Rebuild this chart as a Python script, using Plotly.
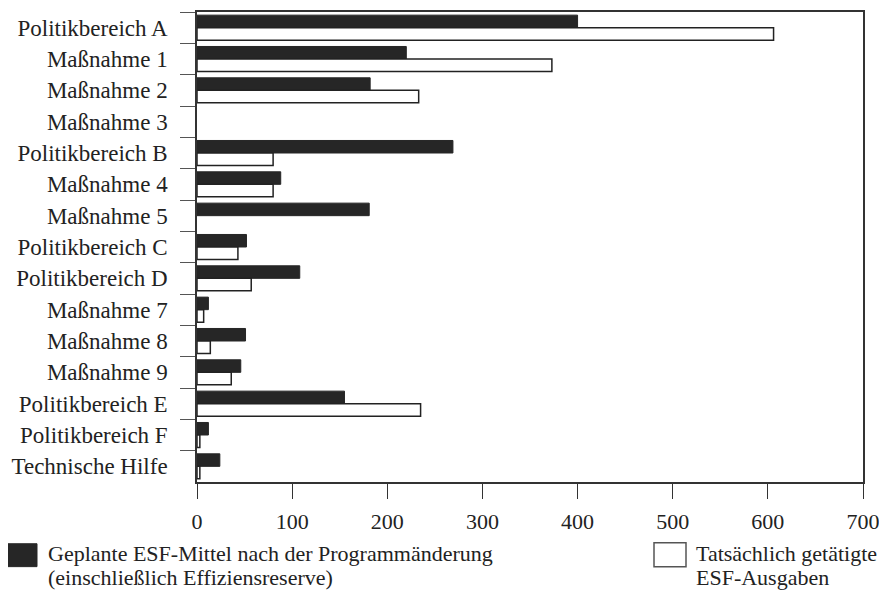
import plotly.graph_objects as go

# ===========================================
# Daten
# ===========================================
kategorien = [
    "Politikbereich A", "Maßnahme 1", "Maßnahme 2", "Maßnahme 3",
    "Politikbereich B", "Maßnahme 4", "Maßnahme 5", "Politikbereich C",
    "Politikbereich D", "Maßnahme 7", "Maßnahme 8", "Maßnahme 9",
    "Politikbereich E", "Politikbereich F", "Technische Hilfe",
]
# None = kein Balken in der Vorlage
geplant = [400, 220, 182, None, 269, 88, 181, 52, 108, 12, 51, 46, 155, 12, 24]
ausgaben = [606, 373, 233, None, 80, 80, None, 43, 57, 7, 14, 36, 235, 3, 3]

x_ticks = [0, 100, 200, 300, 400, 500, 600, 700]

name_geplant = "Geplante ESF-Mittel nach der Programmänderung"
name_geplant_2 = "(einschließlich Effiziensreserve)"
name_ausgaben = "Tatsächlich getätigte"
name_ausgaben_2 = "ESF-Ausgaben"

SCHRIFT = "Liberation Serif"

# Seite hat 8px Body-Rand -> Figur um 8px kleiner
RAND = 8
W, H = 887 - RAND, 592 - RAND
# Plotbereich in Fenster-Pixeln: x 197..863, y 10..482
L, R, T, B = 197 - RAND, 887 - 863, 10 - RAND, 592 - 482

# Fenster-Pixel -> Paper-Koordinaten (für die Legende)
def px_x(x):
    return (x - 197) / (863 - 197)

def px_y(y):
    return (482 - y) / (482 - 10)

# ===========================================
# Figur
# ===========================================
fig = go.Figure()
fig.add_trace(go.Bar(
    y=kategorien, x=geplant, orientation="h", name=name_geplant,
    marker=dict(color="#262626", line=dict(color="#262626", width=1)),
))
fig.add_trace(go.Bar(
    y=kategorien, x=ausgaben, orientation="h", name=name_ausgaben,
    marker=dict(color="white", line=dict(color="#222222", width=1.5)),
))

fig.update_layout(
    width=W, height=H,
    margin=dict(l=L, r=R, t=T, b=B),
    paper_bgcolor="white", plot_bgcolor="white",
    barmode="group", bargap=0.2, bargroupgap=0,
    showlegend=False,
    font=dict(family=SCHRIFT, size=23, color="#222222"),
)
fig.update_xaxes(
    range=[0, 700], tickvals=x_ticks, showgrid=False, zeroline=False,
    ticks="outside", ticklen=15, tickcolor="#333333", tickwidth=1,
    showline=True, linecolor="#333333", linewidth=1.5, mirror=True,
    tickfont=dict(family=SCHRIFT, size=22, color="#222222"),
    ticklabelstandoff=4,
)
fig.update_yaxes(
    autorange="reversed", showgrid=False, zeroline=False,
    ticks="outside", ticklen=15, tickson="boundaries",
    tickcolor="#555555", tickwidth=1,
    showline=True, linecolor="#333333", linewidth=1.5, mirror=True,
    tickfont=dict(family=SCHRIFT, size=23, color="#222222"),
    ticklabelstandoff=23,
)

# Legende von Hand
fig.add_shape(type="rect", xref="paper", yref="paper",
              x0=px_x(6), x1=px_x(37), y0=px_y(544), y1=px_y(567),
              fillcolor="#262626", line=dict(color="#262626", width=1))
fig.add_shape(type="rect", xref="paper", yref="paper",
              x0=px_x(654), x1=px_x(686), y0=px_y(543), y1=px_y(567),
              fillcolor="white", line=dict(color="#555555", width=1.5))

for txt, x, y in [
    (name_geplant, 46, 554), (name_geplant_2, 46, 578),
    (name_ausgaben, 694, 554), (name_ausgaben_2, 694, 578),
]:
    fig.add_annotation(text=txt, xref="paper", yref="paper",
                       x=px_x(x), y=px_y(y), xanchor="left", yanchor="middle",
                       showarrow=False,
                       font=dict(family=SCHRIFT, size=22, color="#222222"))

fig.write_html("out.html")
